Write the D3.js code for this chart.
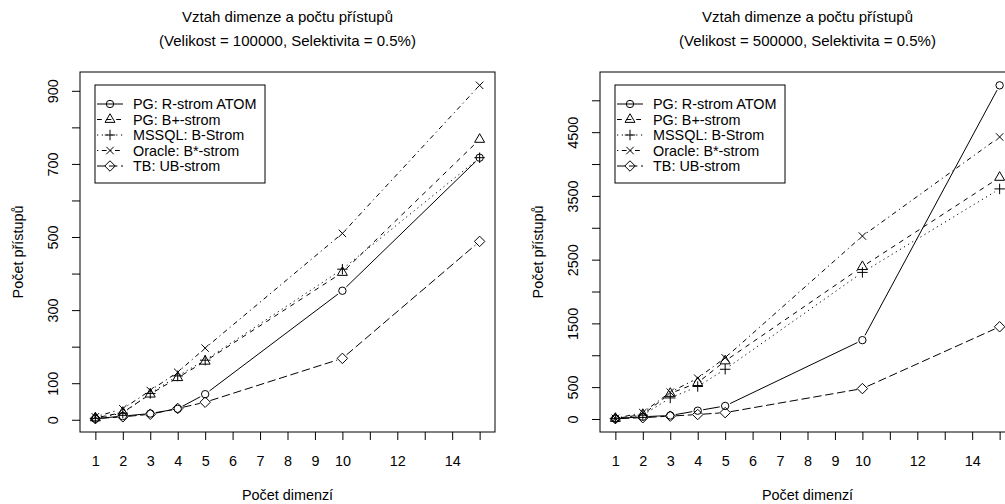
<!DOCTYPE html>
<html>
<head>
<meta charset="utf-8">
<title>Vztah dimenze a počtu přístupů</title>
<script src="https://d3js.org/d3.v7.min.js"></script>
<style>
    body { margin: 0; background: #fff; }
    svg { display: block; overflow: hidden; }
    text { font-family: "Liberation Sans", Arial, sans-serif; font-size: 14.4px; fill: #000; }
</style>
</head>
<body>
<div id="chart"></div>
<script>
// data
const dims = [1, 2, 3, 4, 5, 10, 15];
const seriesNames = ["PG: R-strom ATOM", "PG: B+-strom", "MSSQL: B-Strom", "Oracle: B*-strom", "TB: UB-strom"];

// Velikost = 100000
const rtree100k  = [3, 10, 17, 30, 70, 353, 717];
const bplus100k  = [5, 20, 70, 115, 160, 403, 767];
const mssql100k  = [4, 18, 72, 120, 163, 412, 717];
const oracle100k = [8, 30, 80, 130, 196, 510, 915];
const ub100k     = [3, 8, 15, 31, 48, 168, 488];

// Velikost = 500000
const rtree500k  = [5, 35, 55, 130, 205, 1237, 5235];
const bplus500k  = [8, 70, 400, 570, 910, 2390, 3790];
const mssql500k  = [5, 60, 330, 510, 780, 2300, 3610];
const oracle500k = [10, 100, 420, 640, 960, 2870, 4425];
const ub500k     = [5, 20, 45, 70, 100, 477, 1447];

const xTicks = d3.range(1, 16);
const xLabels = [1, 2, 3, 4, 5, 6, 7, 8, 9, 10, 12, 14];
const yTicks100k = d3.range(0, 901, 100);
const yLabels100k = [0, 100, 300, 500, 700, 900];
const yTicks500k = d3.range(0, 5001, 500);
const yLabels500k = [0, 500, 1500, 2500, 3500, 4500];

const title = "Vztah dimenze a počtu přístupů";
const xTitle = "Počet dimenzí";
const yTitle = "Počet přístupů";

const panels = [
    {left: 80, sub: "(Velikost = 100000, Selektivita = 0.5%)",
     series: [rtree100k, bplus100k, mssql100k, oracle100k, ub100k],
     yTicks: yTicks100k, yLabels: yLabels100k},
    {left: 600, sub: "(Velikost = 500000, Selektivita = 0.5%)",
     series: [rtree500k, bplus500k, mssql500k, oracle500k, ub500k],
     yTicks: yTicks500k, yLabels: yLabels500k}
];

// R style: lty 1..5, pch 1..5
const dashes = [null, "4.8,4.8", "1.2,3.6", "1.2,3.6,4.8,3.6", "8.4,3.6"];
const R = 3.7;
const shapes = [
    `M${R},0A${R},${R} 0 1,1 ${-R},0A${R},${R} 0 1,1 ${R},0Z`,
    `M0,${-1.5551 * R}L${1.3468 * R},${0.7776 * R}L${-1.3468 * R},${0.7776 * R}Z`,
    `M${-1.414 * R},0H${1.414 * R}M0,${-1.414 * R}V${1.414 * R}`,
    `M${-R},${-R}L${R},${R}M${-R},${R}L${R},${-R}`,
    `M0,${-1.414 * R}L${1.414 * R},0L0,${1.414 * R}L${-1.414 * R},0Z`
];

const W = 1005, H = 504;
const pw = 415, plotTop = 72, plotBottom = 432;
const gap = 5.5;

const svg = d3.select("#chart").append("svg")
    .attr("width", W).attr("height", H);

panels.forEach(function(p) {
    const g = svg.append("g");
    const x = d3.scaleLinear()
        .domain([1 - 0.04 * 14, 15 + 0.04 * 14])
        .range([p.left, p.left + pw]);
    const all = p.series.flat();
    const ymin = d3.min(all), ymax = d3.max(all), ext = 0.04 * (ymax - ymin);
    const y = d3.scaleLinear()
        .domain([ymin - ext, ymax + ext])
        .range([plotBottom, plotTop]);

    // titles
    const cx = p.left + pw / 2;
    g.append("text").attr("x", cx).attr("y", 22).attr("text-anchor", "middle")
        .style("font-size", "15px").text(title);
    g.append("text").attr("x", cx).attr("y", 46).attr("text-anchor", "middle")
        .style("font-size", "15px").text(p.sub);

    // axes
    const xa = g.append("g")
        .attr("transform", "translate(0," + plotBottom + ")")
        .call(d3.axisBottom(x).tickValues(xTicks).tickSize(8).tickSizeOuter(0)
            .tickFormat(d => xLabels.includes(d) ? d : ""));
    xa.select(".domain").remove();
    xa.selectAll("text").attr("y", 34).attr("dy", 0)
        .style("font-family", "'Liberation Sans', Arial, sans-serif").style("font-size", "14.4px");

    const ya = g.append("g")
        .attr("transform", "translate(" + p.left + ",0)")
        .call(d3.axisLeft(y).tickValues(p.yTicks).tickSize(8).tickSizeOuter(0)
            .tickFormat(d => p.yLabels.includes(d) ? d : ""));
    ya.select(".domain").remove();
    ya.selectAll("text").attr("x", 0).attr("dy", 0)
        .attr("text-anchor", "middle")
        .attr("transform", "translate(-22,0) rotate(-90)")
        .style("font-family", "'Liberation Sans', Arial, sans-serif").style("font-size", "14.4px");
    g.selectAll(".tick line").attr("stroke", "#000");

    g.append("text").attr("x", cx).attr("y", 500).attr("text-anchor", "middle").text(xTitle);
    g.append("text").attr("text-anchor", "middle")
        .attr("transform", "translate(" + (p.left - 57) + "," + ((plotTop + plotBottom) / 2) + ") rotate(-90)")
        .text(yTitle);

    // series
    p.series.forEach(function(vals, si) {
        const pts = vals.map((v, i) => [x(dims[i]), y(v)]);
        const segs = [];
        for (let i = 0; i < pts.length - 1; i++) {
            const [x0, y0] = pts[i], [x1, y1] = pts[i + 1];
            const len = Math.hypot(x1 - x0, y1 - y0);
            if (len <= 2 * gap) continue;
            const ux = (x1 - x0) / len, uy = (y1 - y0) / len;
            segs.push(`M${x0 + ux * gap},${y0 + uy * gap}L${x1 - ux * gap},${y1 - uy * gap}`);
        }
        g.append("path").attr("d", segs.join(""))
            .attr("fill", "none").attr("stroke", "#000").attr("stroke-width", 1)
            .attr("stroke-dasharray", dashes[si]);
        g.selectAll(".pt" + si).data(pts).enter().append("path")
            .attr("transform", d => "translate(" + d[0] + "," + d[1] + ")")
            .attr("d", shapes[si])
            .attr("fill", "none").attr("stroke", "#000").attr("stroke-width", 1);
    });

    // box
    g.append("rect").attr("x", p.left).attr("y", plotTop)
        .attr("width", pw).attr("height", plotBottom - plotTop)
        .attr("fill", "none").attr("stroke", "#000").attr("stroke-width", 1);

    // legend
    const lx = p.left + 15, ly = 85;
    g.append("rect").attr("x", lx).attr("y", ly).attr("width", 170).attr("height", 98)
        .attr("fill", "#fff").attr("stroke", "#000").attr("stroke-width", 1);
    seriesNames.forEach(function(name, si) {
        const ry = 104 + si * 15.5;
        g.append("line").attr("x1", lx + 2).attr("x2", lx + 28).attr("y1", ry).attr("y2", ry)
            .attr("stroke", "#000").attr("stroke-dasharray", dashes[si]);
        g.append("path").attr("transform", "translate(" + (lx + 15) + "," + ry + ")")
            .attr("d", shapes[si]).attr("fill", "none").attr("stroke", "#000");
        g.append("text").attr("x", lx + 38).attr("y", ry).attr("dy", "0.35em").text(name);
    });
});
</script>
</body>
</html>
